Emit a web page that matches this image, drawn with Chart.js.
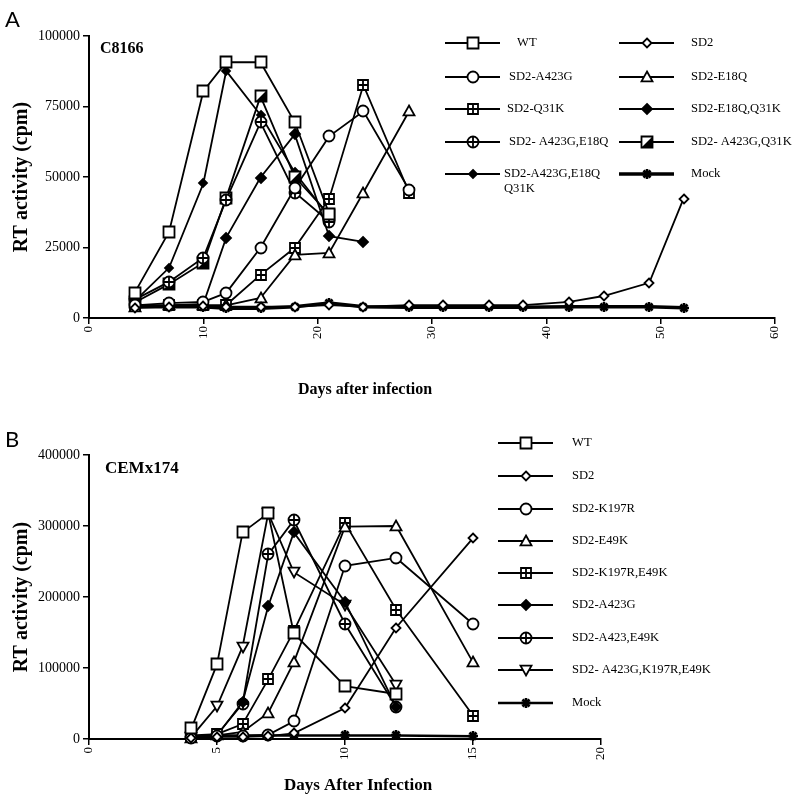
<!DOCTYPE html>
<html>
<head>
<meta charset="utf-8">
<script src="https://cdn.jsdelivr.net/npm/chart.js@4.4.0/dist/chart.umd.min.js"></script>
<style>
  body { margin: 0; background: #fff; }
  canvas { position: absolute; left: 0; }
  #chartA { top: 0; }
  #chartB { top: 400px; }
</style>
</head>
<body>
<canvas id="chartA" width="799" height="400"></canvas>
<canvas id="chartB" width="799" height="399"></canvas>
<script>
// Painel A - C8166
const daysA = [4, 7, 10, 12, 15, 18, 21, 24, 28, 31, 35, 38, 42, 45, 49, 52];
const wtA = [9000, 30500, 80400, 90700, 90700, 69400, 37000];
const sd2A = [3600, 4000, 4300, 4000, 4000, 4000, 4600, 4000, 4600, 4600, 4600, 4600, 5700, 7800, 12500, 42300];
const a423gA = [4500, 5300, 5700, 8900, 24900, 46000, 64400, 73300, 45500];
const e18qA = [4000, 4500, 4500, 4500, 7100, 22400, 23100, 44500, 73300];
const q31kA = [4600, 4500, 4500, 4600, 15300, 24900, 42300, 82600, 44500];
const e18qQ31kA = [4000, 4500, 5000, 28500, 49800, 65100, 29000, 27000];
const a423gE18qA = [6500, 12800, 21400, 42000, 69400, 44500, 34200];
const a423gQ31kA = [5500, 12000, 19600, 42700, 78600, 50000, 36700];
const tripleA = [6000, 17800, 47700, 87600, 72000, 51600, 36000];
const mockA = [4000, 4000, 4000, 3500, 3500, 4000, 5300, 4000, 3800, 3800, 3800, 3800, 4000, 4000, 4000, 3600];
const xTicksA = [0, 10, 20, 30, 40, 50, 60];
const yTicksA = [0, 25000, 50000, 75000, 100000];

// Painel B - CEMx174
const daysB = [4, 5, 6, 7, 8, 10, 12, 15];
const wtB = [15000, 105000, 291000, 318000, 149000, 74600, 63400];
const sd2B = [2000, 3000, 3000, 4000, 8000, 43600, 157000, 283000];
const k197rB = [2000, 4000, 4000, 6000, 25000, 244000, 255000, 162000];
const e49kB = [2000, 5000, 10000, 36600, 108000, 299000, 300000, 108000];
const k197rE49kB = [5000, 7000, 21000, 84000, 152000, 304000, 182000, 33000];
const a423gB = [3000, 5000, 52000, 187000, 291000, 193000, 45000];
const a423E49kB = [3000, 6000, 50000, 260000, 308000, 162000, 45000];
const tripleB = [3000, 46000, 130000, 318000, 235000, 189000, 76000];
const mockB = [2000, 5000, 5000, 5000, 5000, 5000, 5000, 4000];
const xTicksB = [0, 5, 10, 15, 20];
const yTicksB = [0, 100000, 200000, 300000, 400000];

const SERIF = '"Liberation Serif", "Times New Roman", serif';

// Desenha um marcador num pequeno canvas para usar como pointStyle
function marker(kind, size) {
  const c = document.createElement('canvas');
  c.width = 18;
  c.height = 18;
  const g = c.getContext('2d');
  g.translate(9, 9);
  g.lineWidth = 1.8;
  g.strokeStyle = '#000';
  g.fillStyle = '#fff';
  const h = size / 2;
  g.beginPath();
  if (kind === 'square' || kind === 'squareCross' || kind === 'halfSquare') {
    g.rect(-h, -h, size, size);
  } else if (kind === 'circle' || kind === 'circleCross') {
    g.arc(0, 0, h, 0, 2 * Math.PI);
  } else if (kind === 'diamond' || kind === 'diamondFill') {
    g.moveTo(0, -h); g.lineTo(h, 0); g.lineTo(0, h); g.lineTo(-h, 0); g.closePath();
  } else if (kind === 'triangle') {
    g.moveTo(0, -h); g.lineTo(h, h * 0.8); g.lineTo(-h, h * 0.8); g.closePath();
  } else if (kind === 'triangleDown') {
    g.moveTo(0, h); g.lineTo(h, -h * 0.8); g.lineTo(-h, -h * 0.8); g.closePath();
  }
  if (kind === 'diamondFill') g.fillStyle = '#000';
  if (kind !== 'star') {
    g.fill();
    g.stroke();
  }
  if (kind === 'squareCross' || kind === 'circleCross') {
    g.beginPath();
    g.moveTo(-h, 0); g.lineTo(h, 0);
    g.moveTo(0, -h); g.lineTo(0, h);
    g.stroke();
  }
  if (kind === 'halfSquare') {
    g.fillStyle = '#000';
    g.beginPath();
    g.moveTo(h, -h); g.lineTo(h, h); g.lineTo(-h, h); g.closePath();
    g.fill();
  }
  if (kind === 'star') {
    g.lineWidth = 2.6;
    g.beginPath();
    for (let k = 0; k < 4; k++) {
      const a = k * Math.PI / 4;
      g.moveTo(-h * Math.cos(a), -h * Math.sin(a));
      g.lineTo(h * Math.cos(a), h * Math.sin(a));
    }
    g.stroke();
  }
  return c;
}

function series(label, days, vals, style, width) {
  return {
    label: label,
    data: vals.map((v, i) => ({ x: days[i], y: v })),
    borderColor: '#000',
    backgroundColor: '#000',
    borderWidth: width || 1.8,
    pointStyle: style,
    pointRadius: 6,
    tension: 0,
    clip: false
  };
}

// Plugin para a legenda em colunas e os textos do painel
const decorPlugin = {
  id: 'decor',
  beforeDraw(chart) {
    chart.ctx.imageSmoothingEnabled = false;
  },
  afterDraw(chart, args, opts) {
    const ctx = chart.ctx;
    ctx.save();
    chart.data.datasets.forEach((ds, i) => {
      const p = opts.legend[i];
      ctx.strokeStyle = '#000';
      ctx.lineWidth = ds.borderWidth;
      ctx.beginPath();
      ctx.moveTo(p.x, p.y);
      ctx.lineTo(p.x + 55, p.y);
      ctx.stroke();
      const m = ds.pointStyle;
      ctx.drawImage(m, Math.round(p.x + 27.5 - m.width / 2), Math.round(p.y - m.height / 2));
      ctx.fillStyle = '#000';
      ctx.font = '12.6px ' + SERIF;
      ctx.textBaseline = 'middle';
      ds.label.split('\n').forEach((t, k) => ctx.fillText(t, p.tx, p.y + k * 15));
    });
    opts.texts.forEach(t => {
      ctx.font = t.font;
      ctx.textAlign = t.align || 'left';
      ctx.textBaseline = 'alphabetic';
      ctx.fillStyle = '#000';
      ctx.fillText(t.text, t.x, t.y);
    });
    ctx.restore();
  }
};

function makeOptions(xTicks, yTicks, pad, xHeight, legend, texts) {
  return {
    responsive: false,
    animation: false,
    devicePixelRatio: 1,
    layout: { padding: pad },
    plugins: {
      legend: { display: false },
      tooltip: { enabled: false },
      decor: { legend: legend, texts: texts }
    },
    scales: {
      x: {
        type: 'linear',
        min: xTicks[0],
        max: xTicks[xTicks.length - 1],
        afterBuildTicks: s => { s.ticks = xTicks.map(v => ({ value: v })); },
        afterFit: s => { s.height = xHeight; },
        grid: { drawOnChartArea: false, color: '#000', lineWidth: 1.5, tickLength: 6 },
        border: { display: true, color: '#000', width: 2 },
        ticks: { color: '#000', font: { family: SERIF, size: 13 }, minRotation: 90, maxRotation: 90, padding: 2, autoSkip: false }
      },
      y: {
        min: yTicks[0],
        max: yTicks[yTicks.length - 1],
        afterBuildTicks: s => { s.ticks = yTicks.map(v => ({ value: v })); },
        afterFit: s => { s.width = 89; },
        grid: { drawOnChartArea: false, color: '#000', lineWidth: 1.5, tickLength: 6 },
        border: { display: true, color: '#000', width: 2 },
        ticks: { color: '#000', font: { family: SERIF, size: 14 }, padding: 3, callback: v => String(v) },
        title: { display: true, text: 'RT activity (cpm)', color: '#000', font: { family: SERIF, size: 20, weight: 'bold' }, padding: { top: 10, bottom: 0 } }
      }
    }
  };
}

const sq = marker('square', 11);
const dia = marker('diamond', 9);
const circ = marker('circle', 11);
const tri = marker('triangle', 11);
const sqx = marker('squareCross', 10);
const diaF = marker('diamondFill', 10);
const circx = marker('circleCross', 11);
const half = marker('halfSquare', 11);
const diaS = marker('diamondFill', 8);
const star = marker('star', 10);
const triD = marker('triangleDown', 11);

// Posições da legenda A (duas colunas)
const c1 = 445, c2 = 619;
const legendA = [
  { x: c1, y: 43, tx: 517 }, { x: c2, y: 43, tx: 691 },
  { x: c1, y: 77, tx: 509 }, { x: c2, y: 77, tx: 691 },
  { x: c1, y: 109, tx: 507 }, { x: c2, y: 109, tx: 691 },
  { x: c1, y: 142, tx: 509 }, { x: c2, y: 142, tx: 691 },
  { x: c1, y: 174, tx: 504 }, { x: c2, y: 174, tx: 691 }
];

new Chart(document.getElementById('chartA'), {
  type: 'line',
  data: {
    datasets: [
      series('WT', daysA, wtA, sq),
      series('SD2', daysA, sd2A, dia),
      series('SD2-A423G', daysA, a423gA, circ),
      series('SD2-E18Q', daysA, e18qA, tri),
      series('SD2-Q31K', daysA, q31kA, sqx),
      series('SD2-E18Q,Q31K', daysA, e18qQ31kA, diaF),
      series('SD2- A423G,E18Q', daysA, a423gE18qA, circx),
      series('SD2- A423G,Q31K', daysA, a423gQ31kA, half),
      series('SD2-A423G,E18Q\nQ31K', daysA, tripleA, diaS),
      series('Mock', daysA, mockA, star, 3.5)
    ]
  },
  options: makeOptions(xTicksA, yTicksA, { left: 0, top: 36, right: 24, bottom: 0 }, 82, legendA, [
    { text: 'A', x: 5, y: 27, font: '22px Lato, "DejaVu Sans", sans-serif' },
    { text: 'C8166', x: 100, y: 53, font: 'bold 16px ' + SERIF },
    { text: 'Days after infection', x: 365, y: 394, align: 'center', font: 'bold 16px ' + SERIF }
  ]),
  plugins: [decorPlugin]
});

// Legenda B (uma coluna)
const rowsB = [43, 76, 109, 141, 173, 205, 238, 270, 303];
const legendB = rowsB.map(y => ({ x: 498, y: y, tx: 572 }));

new Chart(document.getElementById('chartB'), {
  type: 'line',
  data: {
    datasets: [
      series('WT', daysB, wtB, sq),
      series('SD2', daysB, sd2B, dia),
      series('SD2-K197R', daysB, k197rB, circ),
      series('SD2-E49K', daysB, e49kB, tri),
      series('SD2-K197R,E49K', daysB, k197rE49kB, sqx),
      series('SD2-A423G', daysB, a423gB, diaF),
      series('SD2-A423,E49K', daysB, a423E49kB, circx),
      series('SD2- A423G,K197R,E49K', daysB, tripleB, triD),
      series('Mock', daysB, mockB, star, 2.5)
    ]
  },
  options: makeOptions(xTicksB, yTicksB, { left: 0, top: 55, right: 198, bottom: 0 }, 60, legendB, [
    { text: 'B', x: 5, y: 47, font: '22px Lato, "DejaVu Sans", sans-serif' },
    { text: 'CEMx174', x: 105, y: 73, font: 'bold 17px ' + SERIF },
    { text: 'Days After Infection', x: 358, y: 390, align: 'center', font: 'bold 17px ' + SERIF }
  ]),
  plugins: [decorPlugin]
});
</script>
</body>
</html>
